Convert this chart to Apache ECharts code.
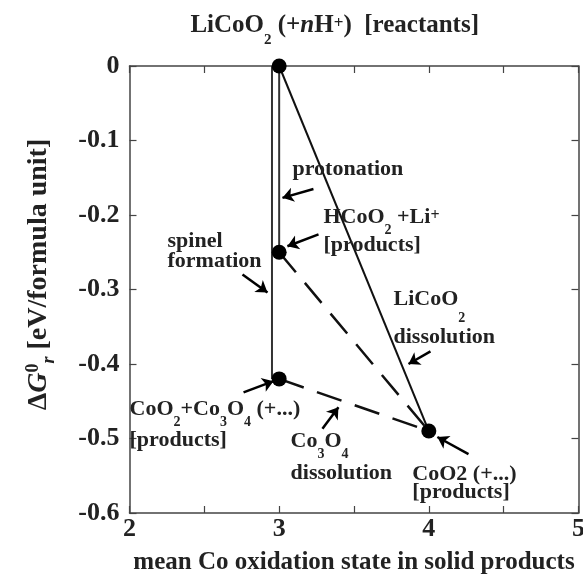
<!DOCTYPE html>
<html lang="en">
<head>
    <meta charset="utf-8">
    <title>ECharts</title>
    <script src="https://cdn.jsdelivr.net/npm/echarts@6/dist/echarts.min.js"></script>
    <style>
        html, body {margin: 0; padding: 0; background: #fff;}
        #main {width: 583px; height: 580px;}
    </style>
</head>
<body>
<div id="main"></div>
<script type="text/javascript">
    // states: [oxidation state, dG]
    var reactant = [3, 0];
    var protonated = [3, -0.25];
    var spinel = [3, -0.42];
    var dissolved = [4, -0.49];
    var spinelLine = [[2.952, 0], [2.952, -0.42]];

    var xTicks = [2, 3, 4, 5];
    var yTicks = [0, -0.1, -0.2, -0.3, -0.4, -0.5, -0.6];

    // annotation arrows [from, to]
    var arrows = [
        [[3.122, 0.0415], [3.022, 0.0174]],
        [[3.229, -0.165], [3.022, -0.177]],
        [[3.263, -0.226], [3.055, -0.242]],
        [[2.755, -0.280], [2.922, -0.304]],
        [[4.011, -0.383], [3.864, -0.400]],
        [[2.762, -0.438], [2.962, -0.423]],
        [[3.289, -0.487], [3.396, -0.458]],
        [[4.265, -0.521], [4.057, -0.498]]
    ];

    // text labels [x, y, text]  (left edge, middle)
    var labels = [
        [2.407, 0.054, '{N|LiCoO}{NS|2}{N| (+}{NI|n}{N|H}{NP|+}{N|)  [reactants]}'],
        [3.089, -0.1386, '{n|protonation}'],
        [3.296, -0.2029, '{n|HCoO}{sub|2}{n| +Li}{sup|+}'],
        [3.296, -0.2404, '{n|[products]}'],
        [2.254, -0.2357, '{n|spinel}'],
        [2.254, -0.2625, '{n|formation}'],
        [3.764, -0.3134, '{n|LiCoO}{subl|2}'],
        [3.764, -0.3643, '{n|dissolution}'],
        [2.000, -0.4607, '{n|CoO}{sub|2}{n|+Co}{sub|3}{n|O}{sub|4}{n| (+...)}'],
        [2.000, -0.5030, '{n|[products]}'],
        [3.076, -0.5042, '{n|Co}{sub|3}{n|O}{sub|4}'],
        [3.076, -0.5470, '{n|dissolution}'],
        [3.890, -0.5484, '{n|CoO2 (+...)}'],
        [3.890, -0.5725, '{n|[products]}']
    ];

    var font = 'Liberation Serif, Times New Roman, serif';
    var ink = '#222';
    function st(size, lh, va, pad, italic) {
        return {
            fontSize: size, fontWeight: 'bold', fontStyle: italic ? 'italic' : 'normal',
            fontFamily: font, color: ink, lineHeight: lh, verticalAlign: va, padding: pad
        };
    }
    var rich = {
        n: st(22, 24, 'middle', 0),
        sub: st(14, 14, 'top', [18, 0, 0, 0]),
        subl: st(14, 14, 'top', [24, 0, 0, 0]),
        sup: st(16, 16, 'top', [3, 0, 0, 0]),
        N: st(25, 26, 'middle', 0),
        NI: st(25, 26, 'middle', 0, true),
        NS: st(15, 15, 'top', [20, 0, 0, 0]),
        NP: st(17, 17, 'top', [2, 0, 0, 0])
    };

    var myChart = echarts.init(document.getElementById('main'));

    var axisCommon = {
        axisLine: {show: true, onZero: false, lineStyle: {color: '#444', width: 1.5}},
        axisTick: {show: true, inside: true, length: 7, lineStyle: {color: '#444', width: 1.2}},
        splitLine: {show: false}
    };

    var option = {
        animation: false,
        grid: {left: 129.5, right: 4.5, top: 66, bottom: 67, outerBoundsMode: 'none'},
        xAxis: [
            Object.assign({
                type: 'value', min: 2, max: 5, interval: 0.5, position: 'bottom',
                name: 'mean Co oxidation state in solid products',
                nameLocation: 'middle', nameGap: 37,
                nameTextStyle: {fontSize: 25, fontWeight: 'bold', fontFamily: font, color: ink},
                axisLabel: {
                    margin: 3, fontSize: 26, fontWeight: 'bold', fontFamily: font, color: ink,
                    formatter: function (v) { return xTicks.indexOf(v) >= 0 ? String(v) : ''; }
                }
            }, axisCommon),
            Object.assign({
                type: 'value', min: 2, max: 5, interval: 0.5, position: 'top',
                axisLabel: {show: false}
            }, axisCommon)
        ],
        yAxis: [
            Object.assign({
                type: 'value', min: -0.6, max: 0, interval: 0.1, position: 'left',
                name: '{n|\u0394}{i|G}{sup|0}{subi|r}{n| [eV/formula unit]}',
                nameLocation: 'middle', nameRotate: 90, nameGap: 77,
                nameTextStyle: {
                    padding: [0, 0, 0, 30],
                    rich: {
                        n: st(28, 28, 'middle', 0),
                        i: st(28, 28, 'middle', 0, true),
                        sup: st(18, 18, 'top', [0, 0, 0, 0]),
                        subi: st(18, 18, 'top', [16, 0, 0, 0], true)
                    }
                },
                axisLabel: {
                    margin: 10, fontSize: 26, fontWeight: 'bold', fontFamily: font, color: ink,
                    formatter: function (v) {
                        var r = Math.round(v * 10) / 10;
                        return yTicks.indexOf(r) >= 0 ? String(r) : '';
                    }
                }
            }, axisCommon),
            Object.assign({
                type: 'value', min: -0.6, max: 0, interval: 0.1, position: 'right',
                axisLabel: {show: false}
            }, axisCommon)
        ],
        series: [
            {
                // spinel formation
                type: 'line', data: spinelLine, symbol: 'none',
                lineStyle: {color: '#333', width: 2}
            },
            {
                // protonation
                type: 'line', data: [reactant, protonated], symbol: 'none',
                lineStyle: {color: '#333', width: 2}
            },
            {
                // LiCoO2 dissolution
                type: 'line', data: [reactant, dissolved], symbol: 'none',
                lineStyle: {color: '#111', width: 2}
            },
            {
                type: 'line', data: [protonated, dissolved], symbol: 'none',
                lineStyle: {color: '#111', width: 2.5, type: [26, 14]}
            },
            {
                type: 'line', data: [spinel, dissolved], symbol: 'none',
                lineStyle: {color: '#111', width: 2.5, type: [26, 14]}
            },
            {
                type: 'scatter', data: [reactant, protonated, spinel, dissolved],
                symbolSize: 15, itemStyle: {color: '#000', opacity: 1}, z: 5
            },
            {
                type: 'lines', coordinateSystem: 'cartesian2d',
                data: arrows.map(function (a) { return {coords: a}; }),
                symbol: ['none', 'arrow'], symbolSize: 11,
                lineStyle: {color: '#000', width: 2.5, opacity: 1},
                z: 6
            },
            {
                type: 'scatter', clip: false, symbolSize: 0, silent: true,
                itemStyle: {opacity: 1},
                data: labels.map(function (l) {
                    return {
                        value: [l[0], l[1]],
                        label: {formatter: l[2]}
                    };
                }),
                label: {
                    show: true, position: [0, 0], align: 'left', verticalAlign: 'middle',
                    rich: rich
                },
                z: 7
            }
        ]
    };
    myChart.setOption(option);
</script>
</body>
</html>
